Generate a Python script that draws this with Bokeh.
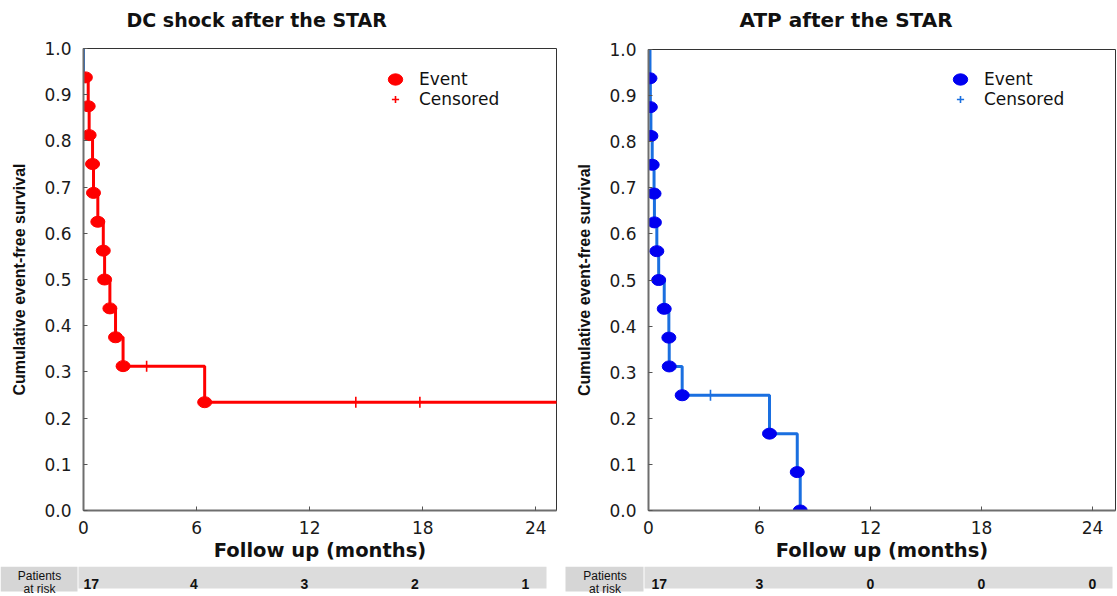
from bokeh.plotting import figure
from bokeh.models import (Range1d, Legend, LegendItem, FixedTicker, BoxAnnotation,
                          Label, PrintfTickFormatter, Title)
from bokeh.layouts import row, column
from bokeh.embed import file_html
from bokeh.resources import INLINE
from bokeh.core.properties import value

# ---------------- data ----------------
month_ticks = [0, 6, 12, 18, 24]
surv_ticks = [0.0, 0.1, 0.2, 0.3, 0.4, 0.5, 0.6, 0.7, 0.8, 0.9, 1.0]
start_time = 0.0
start_surv = 1.0

dc_title = "DC shock after the STAR"
dc_event_times = [0.1, 0.25, 0.3, 0.48, 0.53, 0.76, 1.05, 1.12, 1.4, 1.7, 2.1, 6.43]
dc_event_surv = [0.9375, 0.875, 0.8125, 0.75, 0.6875, 0.625, 0.5625, 0.5, 0.4375, 0.375, 0.3125, 0.2344]
dc_censor_times = [3.35, 14.45, 17.85]
dc_censor_surv = [0.3125, 0.2344, 0.2344]
dc_last_followup = 27.0
dc_at_risk = [17, 4, 3, 2, 1]

atp_title = "ATP after the STAR"
atp_event_times = [0.08, 0.1, 0.13, 0.2, 0.3, 0.32, 0.45, 0.55, 0.85, 1.1, 1.12, 1.82, 6.54, 8.04, 8.2]
atp_event_surv = [0.9375, 0.875, 0.8125, 0.75, 0.6875, 0.625, 0.5625, 0.5, 0.4375, 0.375, 0.3125,
                  0.25, 0.1667, 0.0833, 0.0]
atp_censor_times = [3.35]
atp_censor_surv = [0.25]
atp_at_risk = [17, 3, 0, 0, 0]

x_label = "Follow up (months)"
y_label = "Cumulative event-free survival"
risk_label = "Patients\nat risk"

# ---------------- styles ----------------
RED = "#ff0000"
LINE_BLUE = "#1a6fe0"
MARK_BLUE = "#0000f0"
GRAY_BOX = "#d6d6d6"
GRAY_BAND = "#dcdcdc"


def no_frame_align(fig):
    if "frame_align" in fig.properties():
        fig.frame_align = False


def km_panel(title, ev_t, ev_s, ce_t, ce_s, end_t, line_color, mark_color,
             width, border_left, border_right, x_end, title_size, title_offset, first_seg_color):
    p = figure(width=width, height=566, x_range=Range1d(0, x_end), y_range=Range1d(0, 1),
               output_backend="svg", toolbar_location=None,
               min_border_left=border_left, min_border_right=border_right,
               min_border_top=48, min_border_bottom=56)
    no_frame_align(p)
    # spacer between the frame and the title
    p.add_layout(Title(text=" ", text_font_size="6px", standoff=0), "above")
    p.add_layout(Title(text=title, text_font="DejaVu Sans", text_font_size=title_size,
                       text_font_style="bold", text_color="#111111", align="left",
                       offset=title_offset, vertical_align="top", standoff=15), "above")
    p.grid.visible = False
    p.outline_line_color = "#333333"
    p.outline_line_width = 1
    p.background_fill_color = "white"
    p.border_fill_color = "white"

    # KM step line
    if end_t is not None:
        xs = [start_time] + ev_t[1:] + [end_t]
        ys = list(ev_s) + [ev_s[-1]]
    else:
        xs = [start_time] + ev_t
        ys = [start_surv] + ev_s
    p.step(xs, ys, mode="after", line_color=line_color, line_width=3)
    if first_seg_color is not None:
        p.line([start_time, start_time], [start_surv, ev_s[0]], line_color=first_seg_color,
               line_width=3)

    ev_r = p.ellipse(x=ev_t, y=ev_s, width=14, height=11, width_units="screen",
                     height_units="screen", fill_color=mark_color, line_color=mark_color)
    ce_r = p.scatter(x=ce_t, y=ce_s, marker="cross", size=11, line_color=line_color,
                     line_width=1.6)

    leg = Legend(items=[LegendItem(label="Event", renderers=[ev_r]),
                        LegendItem(label="Censored", renderers=[ce_r])],
                 location=(302, 401), padding=0, margin=0, spacing=0,
                 glyph_width=20, glyph_height=18, label_height=18, label_standoff=14,
                 border_line_alpha=0, background_fill_alpha=0,
                 label_text_font="DejaVu Sans", label_text_font_size="17px",
                 label_text_color="#111111")
    p.add_layout(leg)

    for ax in (p.xaxis, p.yaxis):
        ax.major_tick_in = 4
        ax.major_tick_out = 0
        ax.minor_tick_in = 0
        ax.minor_tick_out = 0
        ax.axis_line_color = "#6e6e6e"
        ax.axis_line_width = 2
        ax.major_tick_line_color = "#555555"
        ax.major_label_text_font = "DejaVu Sans"
        ax.major_label_text_font_size = "17px"
        ax.major_label_text_color = "#1a1a1a"
        ax.axis_label_text_font_style = "bold"
        ax.axis_label_text_color = "#111111"
    p.xaxis.ticker = FixedTicker(ticks=month_ticks)
    p.xaxis.major_label_standoff = 10
    p.xaxis.axis_label = x_label
    p.xaxis.axis_label_text_font = "DejaVu Sans"
    p.xaxis.axis_label_text_font_size = "19.5px"
    p.xaxis.axis_label_standoff = 2
    p.yaxis.ticker = FixedTicker(ticks=surv_ticks)
    p.yaxis.formatter = PrintfTickFormatter(format="%.1f")
    p.yaxis.major_label_standoff = 12
    p.yaxis.axis_label = y_label
    p.yaxis.axis_label_text_font = "Liberation Sans"
    p.yaxis.axis_label_text_font_size = "16px"
    p.yaxis.axis_label_standoff = 13
    return p


def risk_row(counts, width, zero_px, px_per_month, box_left, box_right, band_right, first_offset):
    h = 29
    start = -zero_px / px_per_month
    end = start + width / px_per_month
    r = figure(width=width, height=h, x_range=Range1d(start, end), y_range=Range1d(0, 1),
               output_backend="svg", toolbar_location=None,
               x_axis_location=None, y_axis_location=None,
               min_border=0, min_border_left=0, min_border_right=0,
               min_border_top=0, min_border_bottom=0)
    no_frame_align(r)
    r.grid.visible = False
    r.outline_line_color = None
    r.background_fill_color = "white"
    r.border_fill_color = "white"
    r.add_layout(BoxAnnotation(left=box_left, right=box_right - 1, top=4, bottom=h,
                               left_units="screen", right_units="screen",
                               top_units="screen", bottom_units="screen",
                               fill_color=GRAY_BOX, fill_alpha=1, line_color=None, level="underlay"))
    r.add_layout(BoxAnnotation(left=box_right, right=band_right, top=7, bottom=h,
                               left_units="screen", right_units="screen",
                               top_units="screen", bottom_units="screen",
                               fill_color=GRAY_BAND, fill_alpha=1, line_color=None, level="underlay"))
    r.add_layout(Label(x=(box_left + box_right) / 2, y=13, x_units="screen", y_units="screen",
                       text=risk_label, text_align="center", text_baseline="middle",
                       text_font="Liberation Sans", text_font_size="12px",
                       text_line_height=0.9, text_color="#111111"))
    r.text(x=month_ticks[:1], y=[0.38], text=[str(c) for c in counts[:1]], text_align="left",
           text_baseline="middle", text_font=value("Liberation Sans"), text_font_style="bold",
           text_font_size="14px", text_color="#111111", x_offset=first_offset)
    r.text(x=month_ticks[1:], y=[0.38] * 4, text=[str(c) for c in counts[1:]], text_align="center",
           text_baseline="middle", text_font=value("Liberation Sans"), text_font_style="bold",
           text_font_size="14px", text_color="#111111")
    return r


p1 = km_panel(dc_title, dc_event_times, dc_event_surv, dc_censor_times, dc_censor_surv,
              dc_last_followup, RED, RED, 562, 83, 6, 25.1, "19px", 43, LINE_BLUE)
p2 = km_panel(atp_title, atp_event_times, atp_event_surv, atp_censor_times, atp_censor_surv,
              None, LINE_BLUE, MARK_BLUE, 555, 86, 2, 25.24, "20px", 91, None)

r1 = risk_row(dc_at_risk, 562, 83, 442 / 24, 0, 78, 546, 0)
r2 = risk_row(atp_at_risk, 555, 86, 18.5, 3, 82, 550, 3)

layout = row(column(p1, r1), column(p2, r2))

open("out.html", "w").write(file_html(layout, INLINE))
